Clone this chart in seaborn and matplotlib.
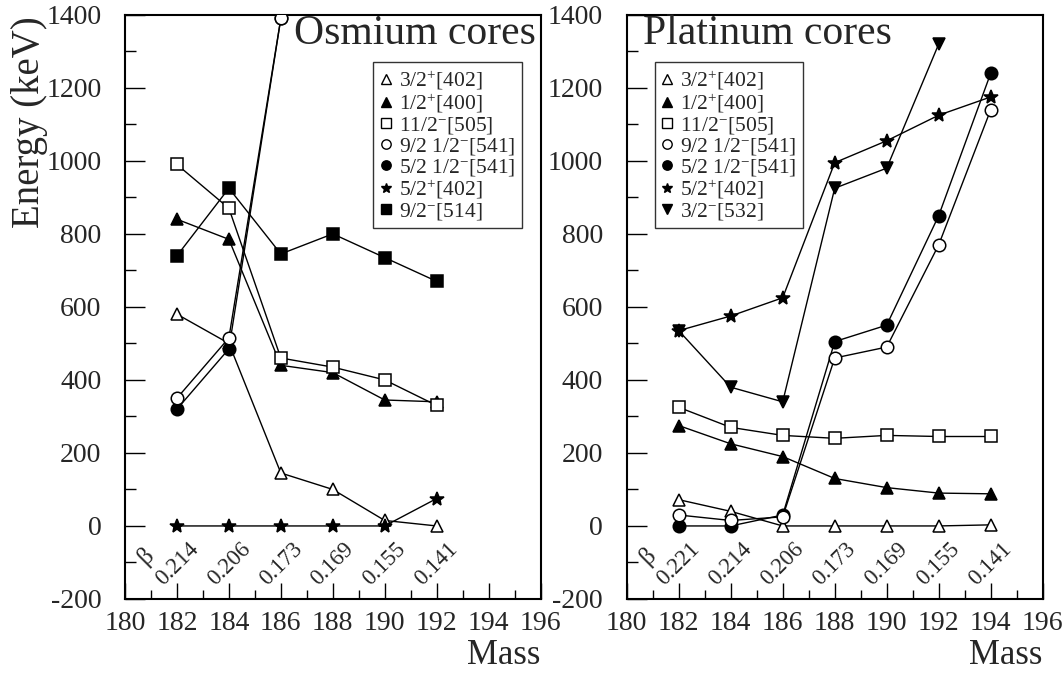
import numpy as np
import pandas as pd
import seaborn as sns
import matplotlib.pyplot as plt
from matplotlib.lines import Line2D
from matplotlib.ticker import MultipleLocator

sns.set_style("white")
plt.rcParams['font.family'] = ['Liberation Serif', 'DejaVu Serif']
plt.rcParams['mathtext.fontset'] = 'custom'
plt.rcParams['mathtext.rm'] = 'Liberation Serif'
plt.rcParams['mathtext.it'] = 'Liberation Serif:italic'
plt.rcParams['axes.unicode_minus'] = False

# ---------------- data ----------------
os_mass = [182, 184, 186, 188, 190, 192]
os_beta = ["0.214", "0.206", "0.173", "0.169", "0.155", "0.141"]
os_32p402 = [580, 500, 145, 100, 15, 0]
os_12p400 = [840, 785, 440, 420, 345, 340]
os_112m505 = [990, 870, 460, 435, 400, 330]
os_92_12m541 = [350, 515, 1390]
os_52_12m541 = [320, 485, 1390]
os_52p402 = [0, 0, 0, 0, 0, 75]
os_92m514 = [740, 925, 745, 800, 735, 670]

pt_mass = [182, 184, 186, 188, 190, 192, 194]
pt_beta = ["0.221", "0.214", "0.206", "0.173", "0.169", "0.155", "0.141"]
pt_32p402 = [72, 40, 0, 0, 0, 0, 3]
pt_12p400 = [275, 225, 190, 130, 105, 90, 88]
pt_112m505 = [325, 270, 248, 240, 248, 245, 245]
pt_92_12m541 = [30, 15, 25, 460, 490, 770, 1140]
pt_52_12m541 = [0, 0, 30, 505, 550, 850, 1240]
pt_52p402 = [535, 575, 625, 995, 1055, 1125, 1175]
pt_32m532 = [535, 380, 340, 925, 980, 1320]

lab_32p402 = r"3/2$^{+}$[402]"
lab_12p400 = r"1/2$^{+}$[400]"
lab_112m505 = r"11/2$^{-}$[505]"
lab_92 = r"9/2 1/2$^{-}$[541]"
lab_52 = r"5/2 1/2$^{-}$[541]"
lab_52p402 = r"5/2$^{+}$[402]"
lab_92m514 = r"9/2$^{-}$[514]"
lab_32m532 = r"3/2$^{-}$[532]"

# styles: (marker, filled, size, zorder)
STY = {
    lab_32p402: ("^", False, 9, 3),
    lab_12p400: ("^", True, 9, 3),
    lab_112m505: ("s", False, 9, 3),
    lab_92: ("o", False, 9, 4),
    lab_52: ("o", True, 9, 3),
    lab_52p402: ("*", True, 10, 3),
    lab_92m514: ("s", True, 9, 3),
    lab_32m532: ("v", True, 9, 3),
}

fig = plt.figure(figsize=(10.64, 6.73), dpi=100)
axL = fig.add_axes([0.1175, 0.110, 0.3905, 0.868])
axR = fig.add_axes([0.589, 0.110, 0.391, 0.868])


def draw(ax, mass, series):
    for lab, vals in series:
        m, filled, ms, z = STY[lab]
        df = pd.DataFrame({"Mass": mass[:len(vals)], "E": vals})
        sns.lineplot(data=df, x="Mass", y="E", ax=ax, color="black",
                     linewidth=1.0, marker=m, markersize=ms,
                     markerfacecolor="black" if filled else "white",
                     markeredgecolor="black", markeredgewidth=1.1,
                     zorder=z)


os_series = [(lab_32p402, os_32p402), (lab_12p400, os_12p400),
             (lab_112m505, os_112m505), (lab_92, os_92_12m541),
             (lab_52, os_52_12m541), (lab_52p402, os_52p402),
             (lab_92m514, os_92m514)]
pt_series = [(lab_32p402, pt_32p402), (lab_12p400, pt_12p400),
             (lab_112m505, pt_112m505), (lab_92, pt_92_12m541),
             (lab_52, pt_52_12m541), (lab_52p402, pt_52p402),
             (lab_32m532, pt_32m532)]

draw(axL, os_mass, os_series)
draw(axR, pt_mass, pt_series)

for ax, mass, betas, series in [(axL, os_mass, os_beta, os_series),
                                (axR, pt_mass, pt_beta, pt_series)]:
    ax.set_xlim(180, 196)
    ax.set_ylim(-200, 1400)
    ax.xaxis.set_major_locator(MultipleLocator(2))
    ax.xaxis.set_minor_locator(MultipleLocator(1))
    ax.yaxis.set_major_locator(MultipleLocator(200))
    ax.yaxis.set_minor_locator(MultipleLocator(100))
    ax.tick_params(which='both', direction='in', top=False, right=False,
                   bottom=True, left=True, color='black', width=1.0,
                   labelsize=20)
    ax.tick_params(axis='y', which='major', length=14.5, pad=17)
    ax.tick_params(axis='y', which='minor', length=8)
    ax.tick_params(axis='x', which='major', length=11.5, pad=9)
    ax.tick_params(axis='x', which='minor', length=6.5)
    for s in ax.spines.values():
        s.set_linewidth(1.5)
        s.set_color('black')
    ax.set_ylabel("")
    ax.set_xlabel("Mass", loc='right', fontsize=25, labelpad=2)
    # beta labels
    ax.text(180.8, -82, "β", rotation=45, ha='center', va='center', fontsize=18)
    for xm, b in zip(mass, betas):
        ax.text(xm, -105, b, rotation=45, ha='center', va='center', fontsize=16.5)
    handles = []
    for lab, _ in series:
        m, filled, ms, z = STY[lab]
        handles.append(Line2D([], [], linestyle='none', marker=m,
                              markersize=ms * 0.75,
                              markerfacecolor='black' if filled else 'white',
                              markeredgecolor='black', markeredgewidth=1.0))
    leg = ax.legend(handles, [l for l, _ in series], fontsize=15.5,
                    frameon=True, fancybox=False, handlelength=0.6,
                    handletextpad=0.3, labelspacing=0.0, borderpad=0.3,
                    borderaxespad=0.0,
                    loc='upper right' if ax is axL else 'upper left',
                    bbox_to_anchor=(0.955, 0.919) if ax is axL else (0.067, 0.919))
    leg.get_frame().set_edgecolor('black')
    leg.get_frame().set_linewidth(1.0)
    leg.set_zorder(5)

axL.set_ylabel("Energy (keV)", fontsize=28, loc='top')
axL.yaxis.set_label_coords(-0.185, 0.998)
axL.text(0.99, 1.0, "Osmium cores", transform=axL.transAxes, ha='right',
         va='top', fontsize=30)
axR.text(0.04, 1.0, "Platinum cores", transform=axR.transAxes, ha='left',
         va='top', fontsize=30)

fig.savefig("out.png", dpi=100)
